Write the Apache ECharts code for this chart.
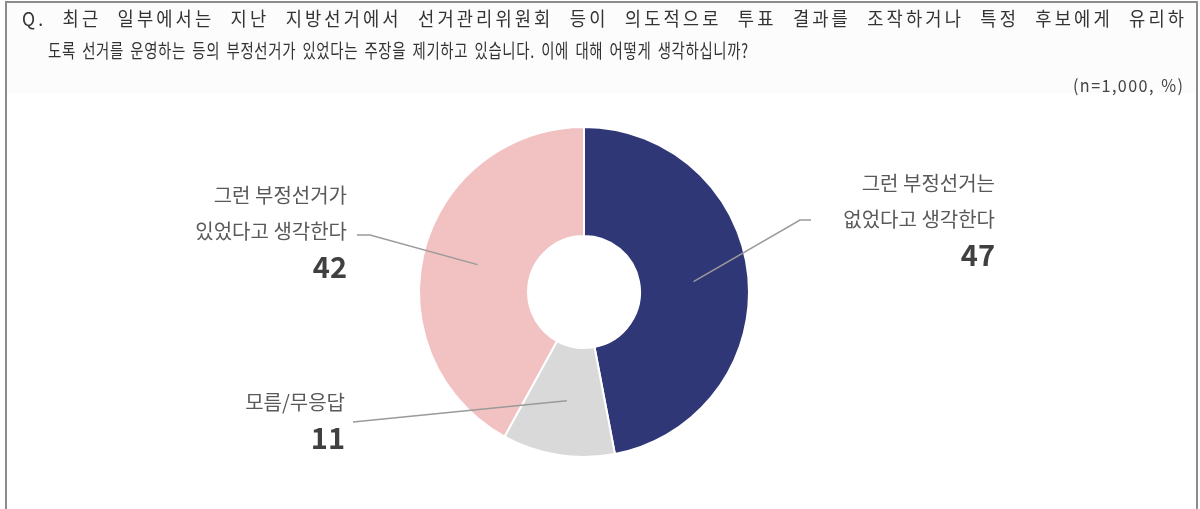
<!DOCTYPE html>
<html>
<head>
<meta charset="utf-8">
<script src="https://cdn.jsdelivr.net/npm/echarts@6/dist/echarts.min.js"></script>
<style>
  html, body { margin: 0; padding: 0; background: #fff; }
  #main { width: 1200px; height: 509px; }
</style>
</head>
<body>
<div id="main"></div>
<script>
// 데이터
var categories = ['그런 부정선거는\n없었다고 생각한다', '모름/무응답', '그런 부정선거가\n있었다고 생각한다'];
var values = [47, 11, 42];
var colors = ['#2f3777', '#d9d9d9', '#f2c1c1'];
var questionLines = [
  'Q. 최근 일부에서는 지난 지방선거에서 선거관리위원회 등이 의도적으로 투표 결과를 조작하거나 특정 후보에게 유리하',
  '도록 선거를 운영하는 등의 부정선거가 있었다는 주장을 제기하고 있습니다. 이에 대해 어떻게 생각하십니까?'
];
var sampleNote = '(n=1,000, %)';

var FAMILY = 'Noto Sans CJK KR';
var center = [584, 292];
var radius = [56, 165];

// 라벨 위치 (텍스트 오른쪽 끝, 첫 줄 가운데) 와 지시선 꺾임점
var labelSpots = [
  { x: 995, y: 183, line: [[800, 220], [811, 220]] },
  { x: 345, y: 402, line: [[353, 422]] },
  { x: 347, y: 195, line: [[370, 235], [357, 235]] }
];
var LINE_GAP = 36;

var total = values.reduce(function (a, b) { return a + b; }, 0);
function innerPoint(idx, r) {
  var cum = 0;
  for (var i = 0; i < idx; i++) cum += values[i];
  var a = 2 * Math.PI * (cum + values[idx] / 2) / total;
  return [center[0] + r * Math.sin(a), center[1] - r * Math.cos(a)];
}

// 제목 글자 배분 정렬 (공백에 더 많은 간격)
var measureCtx = document.createElement('canvas').getContext('2d');
function distributeLine(text, left, right, y, size, sx, spaceWeight, color) {
  measureCtx.font = size + 'px "' + FAMILY + '"';
  var chars = Array.from(text);
  var widths = chars.map(function (c) { return measureCtx.measureText(c).width * sx; });
  var sum = widths.reduce(function (a, b) { return a + b; }, 0);
  var weight = 0;
  chars.forEach(function (c, i) { if (i < chars.length - 1) weight += (c === ' ' ? spaceWeight : 1); });
  var extra = (right - left - sum) / weight;
  var x = left, out = [];
  chars.forEach(function (c, i) {
    if (c !== ' ') {
      out.push({
        type: 'text', x: x, y: y, scaleX: sx, scaleY: 1,
        style: { text: c, fontSize: size, fontFamily: FAMILY, fill: color, verticalAlign: 'middle' },
        silent: true
      });
    }
    x += widths[i] + extra * (c === ' ' ? spaceWeight : 1);
  });
  return out;
}

var graphics = [
  { type: 'rect', shape: { x: 7, y: 3, width: 1189, height: 90 }, style: { fill: '#fcfcfc' }, silent: true, z: -1 },
  { type: 'rect', shape: { x: 6, y: 2, width: 1191, height: 540 }, style: { fill: 'none', stroke: '#8c8c8c', lineWidth: 2 }, silent: true }
];
graphics = graphics.concat(distributeLine(questionLines[0], 22, 1184, 19, 19, 0.93, 4, '#333'));
graphics = graphics.concat(distributeLine(questionLines[1], 48, 748, 51, 19, 0.76, 5, '#333'));
graphics = graphics.concat(distributeLine(sampleNote, 1073, 1183, 86, 17, 0.95, 2, '#444'));

// 라벨과 지시선
labelSpots.forEach(function (s, i) {
  var lines = categories[i].split('\n');
  lines.forEach(function (l, k) {
    graphics.push({
      type: 'text', x: s.x, y: s.y + k * LINE_GAP, silent: true, z: 100,
      style: { text: l, fontSize: 20, fontFamily: FAMILY, fill: '#595959', align: 'right', verticalAlign: 'middle' }
    });
  });
  graphics.push({
    type: 'text', x: s.x, y: s.y + lines.length * LINE_GAP, silent: true, z: 100,
    style: { text: String(values[i]), fontSize: 29, fontWeight: 'bold', fontFamily: FAMILY, fill: '#404040', align: 'right', verticalAlign: 'middle' }
  });
  graphics.push({
    type: 'polyline', z: 100, silent: true,
    shape: { points: [innerPoint(i, 110)].concat(s.line) },
    style: { stroke: '#9a9a9a', lineWidth: 1.5, fill: 'none' }
  });
});

var chartDom = document.getElementById('main');
var myChart = echarts.init(chartDom);

var option = {
  backgroundColor: '#fff',
  animation: false,
  graphic: graphics,
  series: [
    {
      type: 'pie',
      center: center,
      radius: radius,
      startAngle: 90,
      clockwise: true,
      label: { show: false },
      labelLine: { show: false },
      itemStyle: { borderColor: '#fff', borderWidth: 2 },
      data: values.map(function (v, i) {
        return { value: v, name: categories[i], itemStyle: { color: colors[i] } };
      })
    }
  ]
};

option && myChart.setOption(option);
</script>
</body>
</html>
